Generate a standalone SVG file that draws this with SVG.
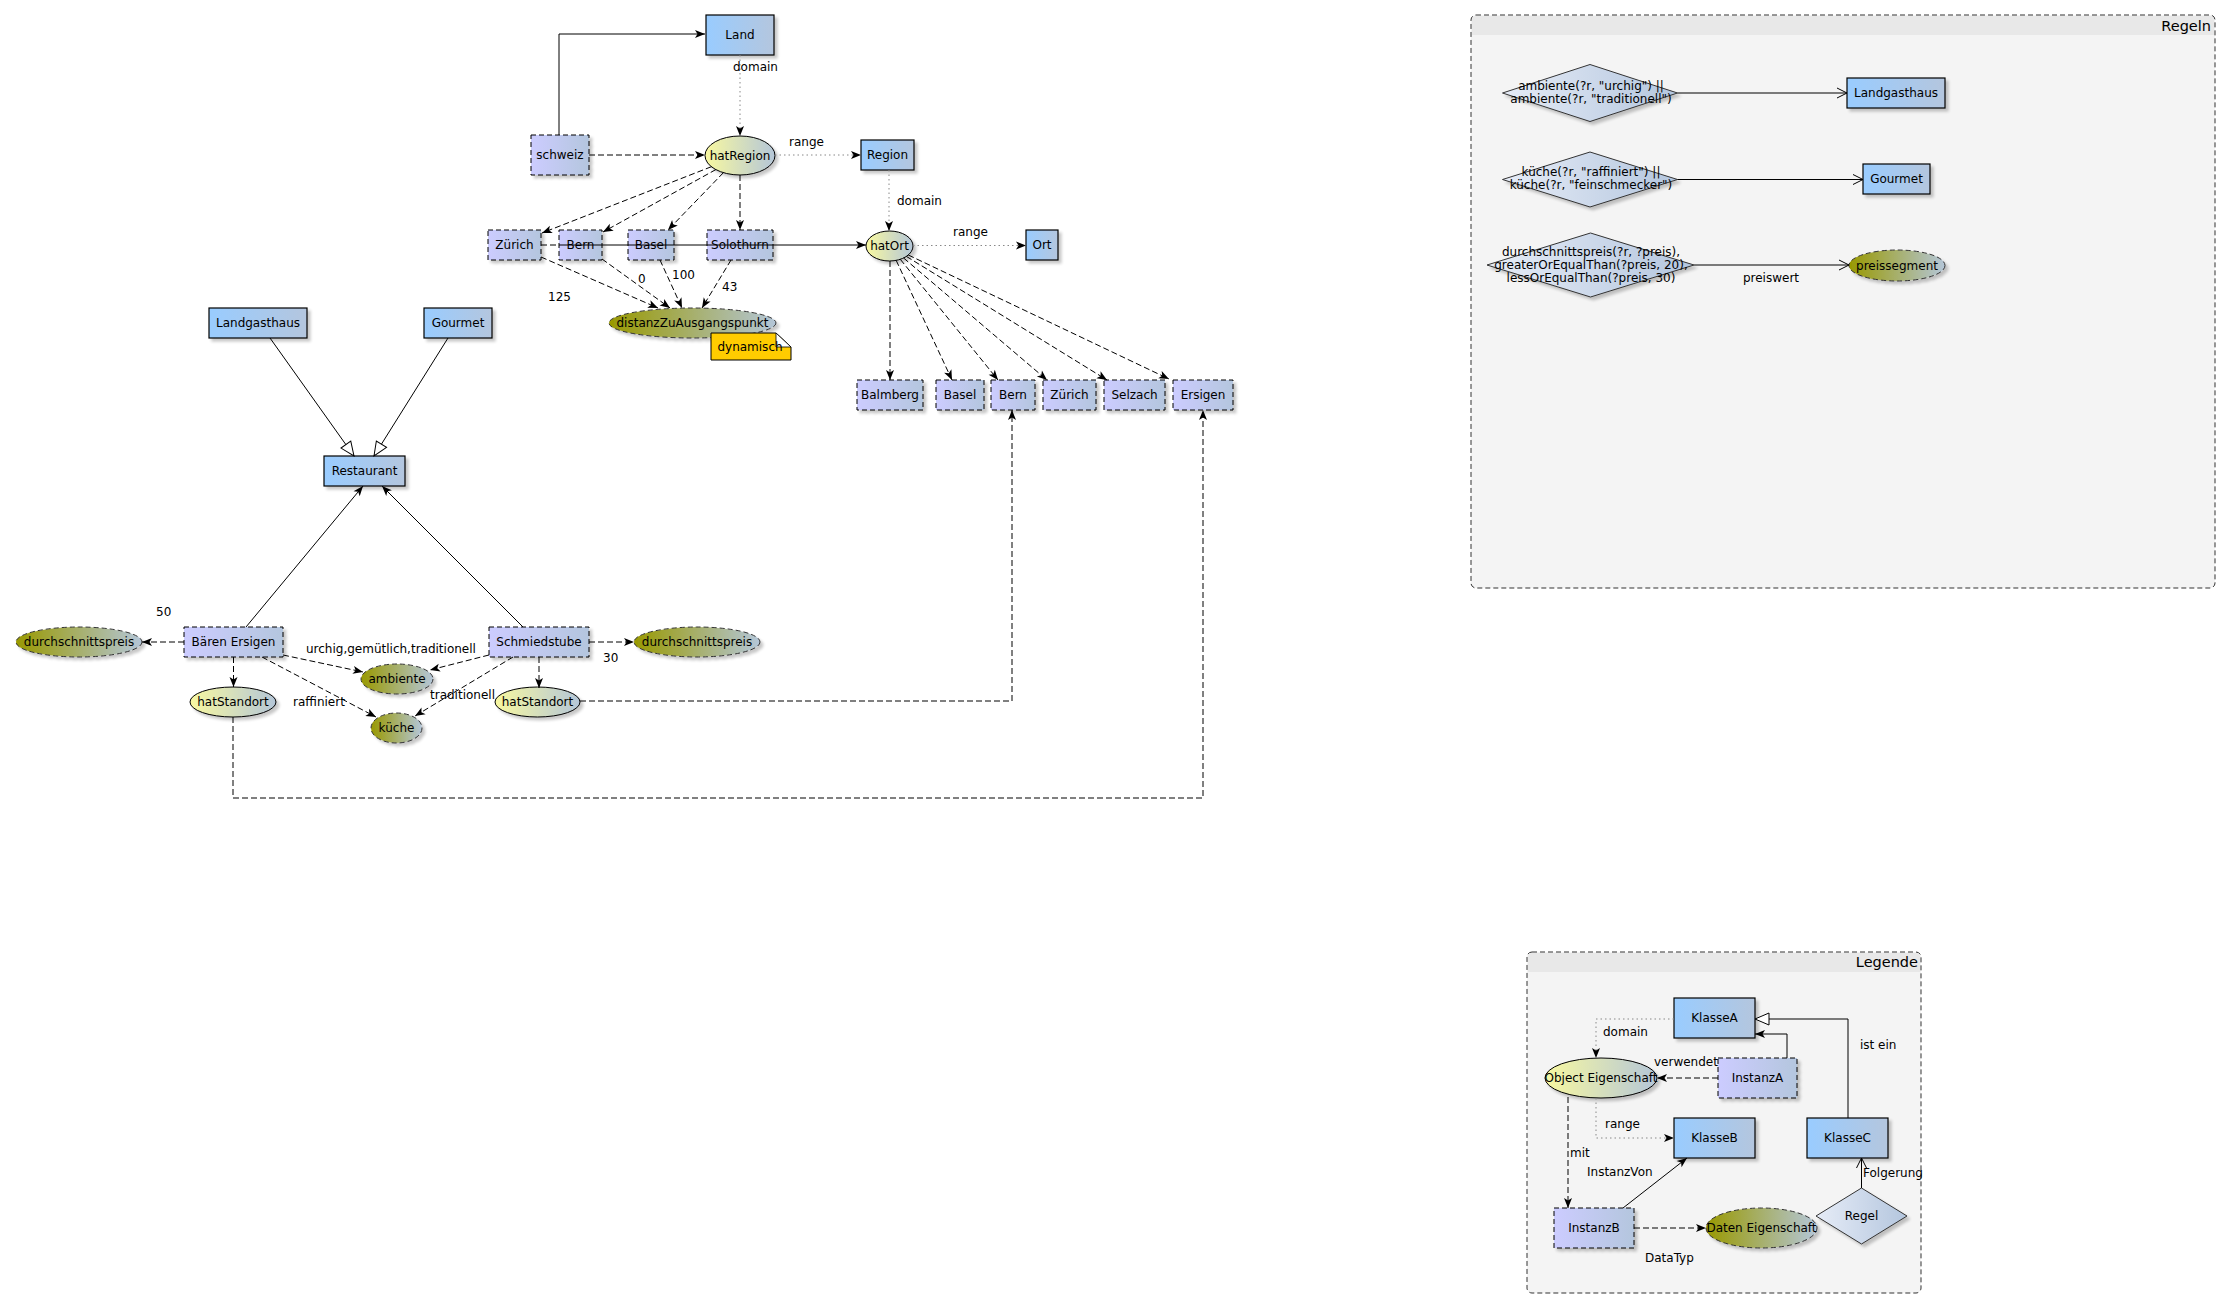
<svg xmlns="http://www.w3.org/2000/svg" width="2231" height="1309" viewBox="0 0 2231 1309">
<style>
  text { font-family: "DejaVu Sans", "Liberation Sans", sans-serif; font-size: 12px; fill: #000; }
  .c { text-anchor: middle; }
  .hdr { font-size: 14.5px; text-anchor: end; }
  .cls { fill: url(#gCls); stroke: #000; stroke-width: 1.2; filter: url(#sh); }
  .inst { fill: url(#gInst); stroke: #000; stroke-width: 1; stroke-dasharray: 5 3; filter: url(#sh); }
  .op { fill: url(#gOp); stroke: #000; stroke-width: 1; filter: url(#sh); }
  .dp { fill: url(#gDp); stroke: #333; stroke-width: 1; stroke-dasharray: 5 3; filter: url(#sh); }
  .rule { fill: url(#gRule); stroke: #333; stroke-width: 1; filter: url(#sh); }
  .cont { fill: #f4f4f4; stroke: #333; stroke-width: 1; stroke-dasharray: 5 3; }
  .contHead { fill: #e8e8e8; }
  #edges path { fill: none; stroke: #000; stroke-width: 1; }
  #edges .d { stroke-dasharray: 6 3; }
  #edges .o { stroke: #888; stroke-dasharray: 1.5 3; }
</style>
<defs>
  <linearGradient id="gCls" x1="0" y1="0" x2="1" y2="0"><stop offset="0" stop-color="#99ccff"/><stop offset="1" stop-color="#b4c6de"/></linearGradient>
  <linearGradient id="gInst" x1="0" y1="0" x2="1" y2="0"><stop offset="0" stop-color="#ccccff"/><stop offset="1" stop-color="#b4c6de"/></linearGradient>
  <linearGradient id="gOp" x1="0" y1="0" x2="1" y2="0"><stop offset="0" stop-color="#f8f8a0"/><stop offset="1" stop-color="#b4c6d8"/></linearGradient>
  <linearGradient id="gDp" x1="0" y1="0" x2="1" y2="0"><stop offset="0" stop-color="#999900"/><stop offset="1" stop-color="#b4c6d8"/></linearGradient>
  <linearGradient id="gRule" x1="0" y1="0" x2="1" y2="0"><stop offset="0" stop-color="#e6ecf7"/><stop offset="1" stop-color="#b4c6de"/></linearGradient>
  <filter id="sh" x="-20%" y="-30%" width="150%" height="180%">
    <feGaussianBlur in="SourceAlpha" stdDeviation="1.5"/>
    <feOffset dx="3" dy="3" result="b"/>
    <feComponentTransfer><feFuncA type="linear" slope="0.22"/></feComponentTransfer>
    <feMerge><feMergeNode/><feMergeNode in="SourceGraphic"/></feMerge>
  </filter>
  <marker id="arr" markerUnits="userSpaceOnUse" markerWidth="11" markerHeight="9" refX="10" refY="4" orient="auto" overflow="visible">
    <path d="M0,0 L10,4 L0,8 L2.5,4 z" fill="#000" stroke="none"/>
  </marker>
  <marker id="tri" markerUnits="userSpaceOnUse" markerWidth="16" markerHeight="13" refX="14" refY="6" orient="auto" overflow="visible">
    <path d="M0,0 L14,6 L0,12 z" fill="#fff" stroke="#000" stroke-width="1"/>
  </marker>
  <marker id="vee" markerUnits="userSpaceOnUse" markerWidth="11" markerHeight="11" refX="10" refY="5" orient="auto" overflow="visible">
    <path d="M0,0 L10,5 L0,10" fill="none" stroke="#000" stroke-width="1"/>
  </marker>
</defs>

<rect width="2231" height="1309" fill="#fff"/>

<!-- rule container -->
<g id="regeln">
  <rect class="cont" x="1471" y="15" width="744" height="573" rx="5"/>
  <path class="contHead" d="M1472,35 V20 Q1472,16 1476,16 H2210 Q2214,16 2214,20 V35 z"/>
  <text class="hdr" x="2211" y="31">Regeln</text>
</g>

<!-- legend container -->
<g id="legende">
  <rect class="cont" x="1527" y="952" width="394" height="341" rx="5"/>
  <path class="contHead" d="M1528,972 V957 Q1528,953 1532,953 H1916 Q1920,953 1920,957 V972 z"/>
  <text class="hdr" x="1918" y="967">Legende</text>
</g>

<!-- geography -->
<g id="n-land"><rect class="cls" x="706" y="15" width="68" height="40"/><text class="c" x="740" y="39">Land</text></g>
<g id="n-schweiz"><rect class="inst" x="531" y="135" width="58" height="40"/><text class="c" x="560" y="159">schweiz</text></g>
<g id="n-hatRegion"><ellipse class="op" cx="740" cy="155.5" rx="35" ry="19.5"/><text class="c" x="740" y="160">hatRegion</text></g>
<g id="n-region"><rect class="cls" x="861" y="140" width="53" height="30"/><text class="c" x="887.5" y="159">Region</text></g>
<g id="n-hatOrt"><ellipse class="op" cx="889.5" cy="246" rx="23.5" ry="15"/><text class="c" x="889.5" y="250">hatOrt</text></g>
<g id="n-ort"><rect class="cls" x="1026" y="230" width="32" height="30"/><text class="c" x="1042" y="249">Ort</text></g>

<g id="n-r-zuerich"><rect class="inst" x="488" y="230" width="53" height="30"/><text class="c" x="514.5" y="249">Zürich</text></g>
<g id="n-r-bern"><rect class="inst" x="559" y="230" width="43" height="30"/><text class="c" x="580.5" y="249">Bern</text></g>
<g id="n-r-basel"><rect class="inst" x="628" y="230" width="46" height="30"/><text class="c" x="651" y="249">Basel</text></g>
<g id="n-r-solothurn"><rect class="inst" x="707" y="230" width="66" height="30"/><text class="c" x="740" y="249">Solothurn</text></g>

<g id="n-distanz"><ellipse class="dp" cx="692.5" cy="323" rx="83.5" ry="15"/><text class="c" x="692.5" y="327">distanzZuAusgangspunkt</text></g>
<g id="n-dynamisch">
  <path d="M711,333 H776 L791,347 V360 H711 z" fill="#ffcc00" stroke="#000" stroke-width="1"/>
  <path d="M776,333 L791,347 H776 z" fill="#fff" stroke="#000" stroke-width="0.8"/>
  <text class="c" x="750" y="351">dynamisch</text>
</g>

<g id="n-o-balmberg"><rect class="inst" x="857" y="380" width="66" height="30"/><text class="c" x="890" y="399">Balmberg</text></g>
<g id="n-o-basel"><rect class="inst" x="936" y="380" width="48" height="30"/><text class="c" x="960" y="399">Basel</text></g>
<g id="n-o-bern"><rect class="inst" x="991" y="380" width="44" height="30"/><text class="c" x="1013" y="399">Bern</text></g>
<g id="n-o-zuerich"><rect class="inst" x="1043" y="380" width="53" height="30"/><text class="c" x="1069.5" y="399">Zürich</text></g>
<g id="n-o-selzach"><rect class="inst" x="1104" y="380" width="61" height="30"/><text class="c" x="1134.5" y="399">Selzach</text></g>
<g id="n-o-ersigen"><rect class="inst" x="1173" y="380" width="60" height="30"/><text class="c" x="1203" y="399">Ersigen</text></g>

<!-- restaurants -->
<g id="n-landgasthaus"><rect class="cls" x="209" y="308" width="98" height="30"/><text class="c" x="258" y="327">Landgasthaus</text></g>
<g id="n-gourmet"><rect class="cls" x="424" y="308" width="68" height="30"/><text class="c" x="458" y="327">Gourmet</text></g>
<g id="n-restaurant"><rect class="cls" x="324" y="456" width="81" height="30"/><text class="c" x="364.5" y="475">Restaurant</text></g>
<g id="n-baeren"><rect class="inst" x="184" y="627" width="99" height="30"/><text class="c" x="233.5" y="646">Bären Ersigen</text></g>
<g id="n-schmiedstube"><rect class="inst" x="489" y="627" width="100" height="30"/><text class="c" x="539" y="646">Schmiedstube</text></g>
<g id="n-preis-l"><ellipse class="dp" cx="79" cy="642" rx="63" ry="15"/><text class="c" x="79" y="646">durchschnittspreis</text></g>
<g id="n-preis-r"><ellipse class="dp" cx="697" cy="642" rx="63" ry="15"/><text class="c" x="697" y="646">durchschnittspreis</text></g>
<g id="n-standort-l"><ellipse class="op" cx="233" cy="702" rx="43" ry="15"/><text class="c" x="233" y="706">hatStandort</text></g>
<g id="n-standort-r"><ellipse class="op" cx="537.5" cy="702" rx="42.5" ry="15"/><text class="c" x="537.5" y="706">hatStandort</text></g>
<g id="n-ambiente"><ellipse class="dp" cx="397" cy="679" rx="36" ry="15"/><text class="c" x="397" y="683">ambiente</text></g>
<g id="n-kueche"><ellipse class="dp" cx="396.5" cy="728" rx="25.5" ry="15"/><text class="c" x="396.5" y="732">küche</text></g>

<!-- rules -->
<g id="n-rule1"><polygon class="rule" points="1502.5,93 1590,64.5 1677.5,93 1590,121.5"/>
  <text class="c" x="1591" y="90">ambiente(?r, "urchig") ||</text><text class="c" x="1591" y="103">ambiente(?r, "traditionell")</text></g>
<g id="n-rule-landgasthaus"><rect class="cls" x="1847" y="78" width="98" height="30"/><text class="c" x="1896" y="97">Landgasthaus</text></g>
<g id="n-rule2"><polygon class="rule" points="1502.5,179.5 1590,152 1677.5,179.5 1590,207"/>
  <text class="c" x="1591" y="176">küche(?r, "raffiniert") ||</text><text class="c" x="1591" y="189">küche(?r, "feinschmecker")</text></g>
<g id="n-rule-gourmet"><rect class="cls" x="1863" y="164" width="67" height="30"/><text class="c" x="1896.5" y="183">Gourmet</text></g>
<g id="n-rule3"><polygon class="rule" points="1487,265 1590.5,233 1694,265 1590.5,297"/>
  <text class="c" x="1591" y="256">durchschnittspreis(?r, ?preis),</text><text class="c" x="1591" y="269">greaterOrEqualThan(?preis, 20),</text><text class="c" x="1591" y="282">lessOrEqualThan(?preis, 30)</text></g>
<g id="n-preissegment"><ellipse class="dp" cx="1897" cy="265.5" rx="48" ry="15.5"/><text class="c" x="1897" y="270">preissegment</text></g>

<!-- legend nodes -->
<g id="n-klasseA"><rect class="cls" x="1674" y="998" width="81" height="40"/><text class="c" x="1714.5" y="1022">KlasseA</text></g>
<g id="n-objEig"><ellipse class="op" cx="1601" cy="1078" rx="56" ry="20"/><text class="c" x="1601" y="1082">Object Eigenschaft</text></g>
<g id="n-instanzA"><rect class="inst" x="1718" y="1058" width="79" height="40"/><text class="c" x="1757.5" y="1082">InstanzA</text></g>
<g id="n-klasseB"><rect class="cls" x="1674" y="1118" width="81" height="40"/><text class="c" x="1714.5" y="1142">KlasseB</text></g>
<g id="n-klasseC"><rect class="cls" x="1807" y="1118" width="81" height="40"/><text class="c" x="1847.5" y="1142">KlasseC</text></g>
<g id="n-instanzB"><rect class="inst" x="1554" y="1208" width="80" height="40"/><text class="c" x="1594" y="1232">InstanzB</text></g>
<g id="n-datEig"><ellipse class="dp" cx="1761.5" cy="1228" rx="55.5" ry="20"/><text class="c" x="1761.5" y="1232">Daten Eigenschaft</text></g>
<g id="n-regel"><polygon class="rule" points="1816,1216 1861.5,1188 1907,1216 1861.5,1244"/><text class="c" x="1861.5" y="1220">Regel</text></g>

<!-- connectors, drawn above the nodes -->
<g id="edges">
  <path d="M559,135 V34 H705" marker-end="url(#arr)"/>
  <path class="d" d="M589,155 H705" marker-end="url(#arr)"/>
  <path class="o" d="M740,55 V136" marker-end="url(#arr)"/>
  <path class="o" d="M775,155 H861" marker-end="url(#arr)"/>
  <path class="o" d="M889,170 V231" marker-end="url(#arr)"/>
  <path class="o" d="M913,245.5 H1026" marker-end="url(#arr)"/>

  <path class="d" d="M711.4,166.7 L542,233" marker-end="url(#arr)"/>
  <path class="d" d="M716,169.5 L603,232" marker-end="url(#arr)"/>
  <path class="d" d="M723.4,172.7 L668,230" marker-end="url(#arr)"/>
  <path class="d" d="M740,175 V230" marker-end="url(#arr)"/>

  <path class="d" d="M541,245 H559"/>
  <path d="M559,245 H866" marker-end="url(#arr)"/>

  <path class="d" d="M541,257 L658,308" marker-end="url(#arr)"/>
  <path class="d" d="M602,259 L670,308" marker-end="url(#arr)"/>
  <path class="d" d="M660,260 L682,308" marker-end="url(#arr)"/>
  <path class="d" d="M731,260 L702,308" marker-end="url(#arr)"/>

  <path class="d" d="M890,261 V380" marker-end="url(#arr)"/>
  <path class="d" d="M896.2,260.4 L952,380" marker-end="url(#arr)"/>
  <path class="d" d="M900.3,259.3 L998,380" marker-end="url(#arr)"/>
  <path class="d" d="M903.6,258 L1047,380" marker-end="url(#arr)"/>
  <path class="d" d="M906.4,256.4 L1107,380" marker-end="url(#arr)"/>
  <path class="d" d="M908.3,255 L1169,379" marker-end="url(#arr)"/>

  <path d="M270,338 L354,456" marker-end="url(#tri)"/>
  <path d="M448,338 L374,456" marker-end="url(#tri)"/>
  <path d="M246,627 L363,486" marker-end="url(#arr)"/>
  <path d="M523,627 L382,486" marker-end="url(#arr)"/>

  <path class="d" d="M184,642 H142" marker-end="url(#arr)"/>
  <path class="d" d="M233.5,657 V687" marker-end="url(#arr)"/>
  <path class="d" d="M283,655 L363,672" marker-end="url(#arr)"/>
  <path class="d" d="M262,657 L376,717" marker-end="url(#arr)"/>

  <path class="d" d="M589,642 H634" marker-end="url(#arr)"/>
  <path class="d" d="M539,657 V688" marker-end="url(#arr)"/>
  <path class="d" d="M489,655 L430,670" marker-end="url(#arr)"/>
  <path class="d" d="M513,657 L415,716" marker-end="url(#arr)"/>

  <path class="d" d="M580,701 H1012 V410" marker-end="url(#arr)"/>
  <path class="d" d="M233,717 V798 H1203 V410" marker-end="url(#arr)"/>

  <!-- rules -->
  <path d="M1677.5,93 H1847" marker-end="url(#vee)"/>
  <path d="M1677.5,179.5 H1863" marker-end="url(#vee)"/>
  <path d="M1694,265 H1849" marker-end="url(#vee)"/>

  <!-- legend -->
  <path class="o" d="M1674,1019 H1596 V1058" marker-end="url(#arr)"/>
  <path class="d" d="M1718,1078 H1657" marker-end="url(#arr)"/>
  <path d="M1787,1058 V1034 H1755" marker-end="url(#arr)"/>
  <path d="M1848,1118 V1019 H1755" marker-end="url(#tri)"/>
  <path class="o" d="M1596,1098 V1138 H1674" marker-end="url(#arr)"/>
  <path class="d" d="M1568,1097 V1208" marker-end="url(#arr)"/>
  <path d="M1623,1208 L1687,1158" marker-end="url(#arr)"/>
  <path class="d" d="M1634,1228 H1706" marker-end="url(#arr)"/>
  <path d="M1861.5,1188 V1158" marker-end="url(#vee)"/>
</g>

<!-- edge labels -->
<g id="edge-labels">
  <text x="733" y="71">domain</text>
  <text x="789" y="146">range</text>
  <text x="897" y="205">domain</text>
  <text x="953" y="236">range</text>
  <text x="548" y="301">125</text>
  <text x="638" y="283">0</text>
  <text x="672" y="279">100</text>
  <text x="722" y="291">43</text>
  <text x="156" y="616">50</text>
  <text x="306" y="653">urchig,gemütlich,traditionell</text>
  <text x="293" y="706">raffiniert</text>
  <text x="430" y="699">traditionell</text>
  <text x="603" y="662">30</text>
  <text class="c" x="1771" y="282">preiswert</text>
  <text x="1603" y="1036">domain</text>
  <text x="1654" y="1066">verwendet</text>
  <text x="1860" y="1049">ist ein</text>
  <text x="1605" y="1128">range</text>
  <text x="1570" y="1157">mit</text>
  <text x="1587" y="1176">InstanzVon</text>
  <text x="1645" y="1262">DataTyp</text>
  <text x="1863" y="1177">Folgerung</text>
</g>
</svg>
